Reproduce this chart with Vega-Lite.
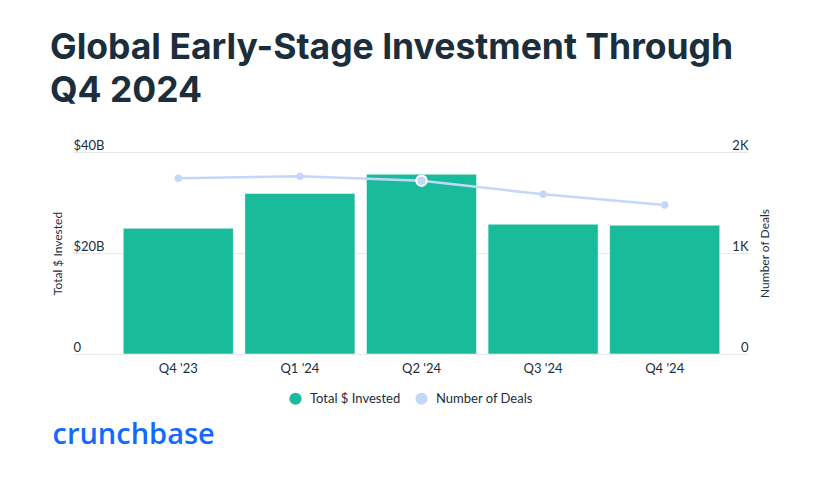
{
  "$schema": "https://vega.github.io/schema/vega-lite/v6.json",
  "width": 675,
  "height": 202,
  "autosize": {"type": "none"},
  "padding": {"left": 73, "top": 152, "right": 68, "bottom": 131},
  "background": "#ffffff",
  "title": {
    "text": ["Global Early-Stage Investment Through", "Q4 2024"],
    "anchor": "start",
    "frame": "group",
    "font": "Inter",
    "fontSize": 35.5,
    "fontWeight": "bold",
    "color": "#1b2e3c",
    "lineHeight": 43,
    "dx": -23,
    "offset": 30
  },
  "data": {
    "values": [
      {"quarter": "Q4 '23", "invested": 24.9, "deals": 1740},
      {"quarter": "Q1 '24", "invested": 31.8, "deals": 1759},
      {"quarter": "Q2 '24", "invested": 35.6, "deals": 1716},
      {"quarter": "Q3 '24", "invested": 25.7, "deals": 1581},
      {"quarter": "Q4 '24", "invested": 25.5, "deals": 1475}
    ]
  },
  "encoding": {
    "x": {
      "field": "quarter",
      "type": "nominal",
      "sort": null,
      "scale": {"paddingInner": 0.095, "paddingOuter": 0.323, "align": 0.64},
      "axis": {
        "title": "crunchbase",
        "titleFont": "Open Sans",
        "titleFontSize": 29,
        "titleFontWeight": 600,
        "titleColor": "#146aff",
        "titleAnchor": "start",
        "titleAlign": "left",
        "titleBaseline": "middle",
        "titleX": -21,
        "titleY": 80,
        "labelAngle": 0,
        "labelFont": "Lato",
        "labelFontSize": 13,
        "labelColor": "#1b2e3c",
        "labelPadding": 8,
        "domain": false,
        "ticks": false,
        "grid": false
      }
    }
  },
  "layer": [
    {
      "mark": {"type": "bar", "stroke": "#ffffff", "strokeWidth": 0.5},
      "encoding": {
        "y": {
          "field": "invested",
          "type": "quantitative",
          "scale": {"domain": [0, 40], "nice": false},
          "axis": {
            "title": "Total $ Invested",
            "titleFont": "Lato",
            "titleFontSize": 12,
            "titleFontWeight": "normal",
            "titleColor": "#1b2e3c",
            "titleX": -16,
            "titleY": 101,
            "titleBaseline": "middle",
            "titleAngle": 270,
            "values": [0, 20, 40],
            "labelExpr": "datum.value === 0 ? '0' : '$' + datum.value + 'B'",
            "labelAlign": "left",
            "labelBaseline": "bottom",
            "labelPadding": 0,
            "labelDy": -3,
            "labelFont": "Lato",
            "labelFontSize": 13,
            "labelColor": "#1b2e3c",
            "domain": false,
            "ticks": false,
            "grid": true,
            "gridColor": "#e6e9ec",
            "gridWidth": 1
          }
        },
        "color": {
          "datum": "Total $ Invested",
          "type": "nominal",
          "scale": {"domain": ["Total $ Invested", "Number of Deals"], "range": ["#19bb9b", "#c4d7f8"]},
          "legend": {"title": null}
        }
      }
    },
    {
      "mark": {"type": "line", "strokeWidth": 2.5},
      "encoding": {
        "y": {
          "field": "deals",
          "type": "quantitative",
          "scale": {"domain": [0, 2000], "nice": false},
          "axis": {
            "orient": "right",
            "title": "Number of Deals",
            "titleFont": "Lato",
            "titleFontSize": 12,
            "titleFontWeight": "normal",
            "titleColor": "#1b2e3c",
            "titleX": 16,
            "titleY": 101,
            "titleBaseline": "middle",
            "titleAngle": 270,
            "values": [0, 1000, 2000],
            "labelExpr": "datum.value === 0 ? '0' : (datum.value / 1000) + 'K'",
            "labelAlign": "right",
            "labelBaseline": "bottom",
            "labelPadding": 0,
            "labelDy": -3,
            "labelFont": "Lato",
            "labelFontSize": 13,
            "labelColor": "#1b2e3c",
            "domain": false,
            "ticks": false,
            "grid": false
          }
        },
        "color": {"datum": "Number of Deals", "type": "nominal", "legend": {"title": null}}
      }
    },
    {
      "mark": {"type": "point", "filled": true, "opacity": 1},
      "encoding": {
        "y": {"field": "deals", "type": "quantitative", "scale": {"domain": [0, 2000], "nice": false}, "axis": null},
        "color": {"datum": "Number of Deals", "type": "nominal", "legend": {"title": null}},
        "size": {"condition": {"test": "datum.quarter === \"Q2 '24\"", "value": 110}, "value": 55},
        "stroke": {"condition": {"test": "datum.quarter === \"Q2 '24\"", "value": "#ffffff"}, "value": null},
        "strokeWidth": {"value": 2}
      }
    }
  ],
  "resolve": {"scale": {"y": "independent"}},
  "config": {
    "view": {"stroke": null},
    "legend": {
      "orient": "none",
      "direction": "horizontal",
      "legendX": 216,
      "legendY": 240,
      "symbolType": "circle",
      "symbolSize": 150,
      "symbolStrokeWidth": 0,
      "labelFont": "Lato",
      "labelFontSize": 13,
      "labelColor": "#1b2e3c",
      "columnPadding": 14,
      "labelOffset": 8
    }
  }
}
